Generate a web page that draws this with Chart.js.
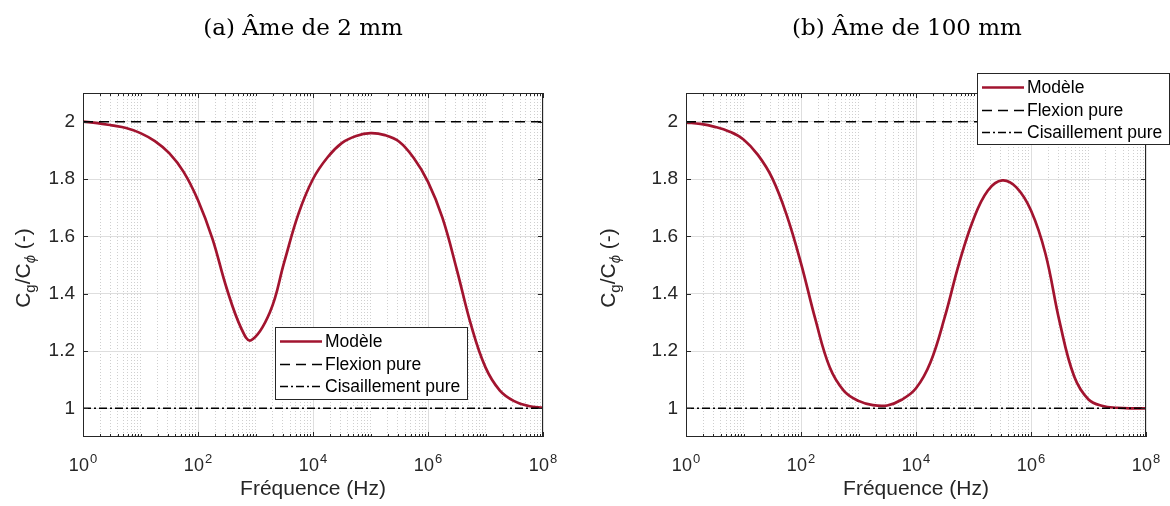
<!DOCTYPE html>
<html>
<head>
<meta charset="utf-8">
<script src="https://cdn.jsdelivr.net/npm/chart.js@4.4.1/dist/chart.umd.min.js"></script>
<style>
html, body { margin: 0; padding: 0; background: #fff; }
#wrap { position: relative; width: 1170px; height: 506px; }
.panel { position: absolute; top: 0; width: 585px; height: 506px; }
</style>
</head>
<body>
<div id="wrap">
  <div class="panel" style="left:0"><canvas id="ca" width="585" height="506"></canvas></div>
  <div class="panel" style="left:585px"><canvas id="cb" width="585" height="506"></canvas></div>
</div>
<script>
// (a) âme de 2 mm : fréquence (Hz) et Cg/Cphi
const freqA = [1, 1.78, 3.16, 5.62, 10, 17.8, 31.6, 56.2, 100, 178, 316, 562, 832, 1780, 3160,
  5620, 10000, 17800, 31600, 56200, 100000, 178000, 316000, 562000, 1000000, 1780000, 3160000,
  5620000, 10000000, 17800000, 31600000, 56200000, 100000000];
const modeleA = [2.000, 1.995, 1.987, 1.978, 1.960, 1.932, 1.89, 1.825, 1.726, 1.592, 1.418, 1.28,
  1.237, 1.335, 1.51, 1.68, 1.80, 1.875, 1.925, 1.95, 1.96, 1.953, 1.93, 1.874, 1.79, 1.665,
  1.485, 1.29, 1.143, 1.062, 1.025, 1.008, 1.002];

// (b) âme de 100 mm
const freqB = [1, 1.78, 3.16, 5.62, 10, 17.8, 31.6, 56.2, 100, 178, 316, 562, 1000, 1780, 3160,
  5620, 10000, 17800, 31600, 56200, 100000, 178000, 316000, 562000, 1000000, 1780000, 3160000,
  5620000, 10000000, 17800000, 31600000, 56200000, 100000000];
const modeleB = [1.997, 1.992, 1.982, 1.966, 1.938, 1.884, 1.803, 1.675, 1.506, 1.31, 1.143, 1.06,
  1.026, 1.011, 1.010, 1.03, 1.07, 1.16, 1.318, 1.506, 1.66, 1.76, 1.795, 1.77, 1.69, 1.54,
  1.30, 1.112, 1.031, 1.008, 1.002, 1.0, 1.0];

// droites de référence
const refFreq = [1, 100000000];
const flexion = [2, 2];
const cisaillement = [1, 1];

const legendLabels = ['Modèle', 'Flexion pure', 'Cisaillement pure'];
const titles = ['(a) Âme de 2 mm', '(b) Âme de 100 mm'];
const xMajor = [1, 100, 10000, 1000000, 100000000];
const xExp = ['0', '2', '4', '6', '8'];
const yTicks = [1, 1.2, 1.4, 1.6, 1.8, 2];

// positions des lignes de grille log (1..9 x 10^n)
const gridVals = [];
for (let e = 0; e < 8; e++)
  for (let m = 1; m < 10; m++) gridVals.push(m * Math.pow(10, e));
gridVals.push(100000000);

const AX = '#262626';
const SANS = '"Liberation Sans", Arial, sans-serif';
Chart.defaults.font.family = SANS;

function isMajorX(v) {
  const lg = Math.log10(v), r = Math.round(lg);
  return Math.abs(lg - r) < 1e-9 && r % 2 === 0;
}

function overlay(look) {
  return {
    id: 'overlay',
    afterDraw: function (chart) {
      const ctx = chart.ctx, ca = chart.chartArea;
      const xs = chart.scales.x, ys = chart.scales.y;
      ctx.save();
      // cadre + graduations intérieures
      ctx.strokeStyle = AX;
      ctx.lineWidth = 1;
      ctx.setLineDash([]);
      ctx.strokeRect(ca.left + 0.5, ca.top + 0.5, ca.right - ca.left - 1, ca.bottom - ca.top - 1);
      ctx.beginPath();
      gridVals.forEach(function (v) {
        const px = Math.round(xs.getPixelForValue(v)) + 0.5;
        const len = isMajorX(v) ? 5 : 3;
        ctx.moveTo(px, ca.bottom); ctx.lineTo(px, ca.bottom - len);
        ctx.moveTo(px, ca.top); ctx.lineTo(px, ca.top + len);
      });
      yTicks.forEach(function (v) {
        const py = Math.round(ys.getPixelForValue(v)) + 0.5;
        ctx.moveTo(ca.left, py); ctx.lineTo(ca.left + 5, py);
        ctx.moveTo(ca.right, py); ctx.lineTo(ca.right - 5, py);
      });
      ctx.stroke();

      // étiquettes 10^n
      ctx.fillStyle = AX;
      ctx.textAlign = 'left';
      ctx.textBaseline = 'alphabetic';
      xMajor.forEach(function (v, i) {
        const px = xs.getPixelForValue(v);
        ctx.font = '18px ' + SANS;
        const wb = ctx.measureText('10').width;
        ctx.font = '13px ' + SANS;
        const we = ctx.measureText(xExp[i]).width;
        const x0 = px - (wb + we + 1) / 2;
        ctx.font = '18px ' + SANS;
        ctx.fillText('10', x0, 471);
        ctx.font = '13px ' + SANS;
        ctx.fillText(xExp[i], x0 + wb + 1, 463);
      });

      // titre axe x
      ctx.font = '21px ' + SANS;
      ctx.textAlign = 'center';
      ctx.fillText('Fréquence (Hz)', (ca.left + ca.right) / 2, 495);

      // titre axe y : C_g/C_phi (-)
      const parts = [
        { t: 'C', f: '21px ' + SANS, dy: 0 },
        { t: 'g', f: '15px ' + SANS, dy: 5 },
        { t: '/C', f: '21px ' + SANS, dy: 0 },
        { t: 'ϕ', f: 'italic 15px ' + SANS, dy: 5 },
        { t: ' (-)', f: '21px ' + SANS, dy: 0 }
      ];
      let tot = 0;
      parts.forEach(function (p) { ctx.font = p.f; p.w = ctx.measureText(p.t).width; tot += p.w; });
      ctx.save();
      ctx.translate(30, 268);
      ctx.rotate(-Math.PI / 2);
      ctx.textAlign = 'left';
      let cx = -tot / 2;
      parts.forEach(function (p) { ctx.font = p.f; ctx.fillText(p.t, cx, p.dy); cx += p.w; });
      ctx.restore();

      // titre du sous-graphe
      ctx.fillStyle = '#000';
      ctx.font = '23px "DejaVu Serif", serif';
      ctx.textAlign = 'center';
      ctx.fillText(look.title, look.titleX, 35);

      // légende
      const lg = look.legend;
      ctx.fillStyle = '#fff';
      ctx.fillRect(lg.x, lg.y, lg.w, lg.h);
      ctx.strokeStyle = AX;
      ctx.lineWidth = 1;
      ctx.strokeRect(lg.x + 0.5, lg.y + 0.5, lg.w, lg.h);
      ctx.font = '17.5px ' + SANS;
      ctx.textAlign = 'left';
      ctx.textBaseline = 'middle';
      legendLabels.forEach(function (lab, i) {
        const ds = chart.data.datasets.find(function (d) { return d.label === lab; });
        const y = Math.round(lg.y + 14 + i * 22.5) + 0.5;
        ctx.beginPath();
        ctx.setLineDash(ds.borderDash || []);
        ctx.strokeStyle = ds.borderColor;
        ctx.lineWidth = ds.borderWidth;
        ctx.moveTo(lg.x + 5, y);
        ctx.lineTo(lg.x + 47, y);
        ctx.stroke();
        ctx.setLineDash([]);
        ctx.fillStyle = '#000';
        ctx.fillText(lab, lg.x + 50, y + 1);
      });
      ctx.restore();
    }
  };
}

function makeChart(id, freq, modele, look) {
  return new Chart(document.getElementById(id), {
    type: 'line',
    data: {
      datasets: [{
        label: legendLabels[1],
        data: refFreq.map(function (f, i) { return { x: f, y: flexion[i] }; }),
        borderColor: '#000', borderWidth: 1.5, borderDash: [10, 6],
        pointRadius: 0, order: 0
      }, {
        label: legendLabels[2],
        data: refFreq.map(function (f, i) { return { x: f, y: cisaillement[i] }; }),
        borderColor: '#000', borderWidth: 1.5, borderDash: [8, 3, 2, 3],
        pointRadius: 0, order: 0
      }, {
        label: legendLabels[0],
        data: freq.map(function (f, i) { return { x: f, y: modele[i] }; }),
        borderColor: '#A2142F', borderWidth: 2.7,
        tension: 0.4,
        pointRadius: 0, order: 1
      }]
    },
    options: {
      responsive: false,
      animation: false,
      layout: { padding: { top: 93, right: look.right, bottom: 0, left: 0 } },
      plugins: { legend: { display: false }, tooltip: { enabled: false } },
      scales: {
        x: {
          type: 'logarithmic', min: 1, max: 100000000,
          afterBuildTicks: function (s) { s.ticks = gridVals.map(function (v) { return { value: v }; }); },
          afterFit: function (s) { s.height = 69; },
          ticks: { autoSkip: false, maxRotation: 0, callback: function () { return ''; } },
          grid: {
            drawTicks: false, lineWidth: 1,
            color: function (c) { return c.tick && isMajorX(c.tick.value) ? '#dedede' : 'rgba(38,38,38,0.22)'; }
          },
          border: {
            display: false,
            dash: function (c) { return c.tick && !isMajorX(c.tick.value) ? [1, 2] : []; }
          }
        },
        y: {
          type: 'linear', min: 0.9, max: 2.1,
          afterBuildTicks: function (s) { s.ticks = yTicks.map(function (v) { return { value: v }; }); },
          afterFit: function (s) { s.width = look.left; },
          ticks: {
            padding: 8, color: AX, font: { size: 19 },
            callback: function (v) { return String(v); }
          },
          grid: { drawTicks: false, color: '#dedede', lineWidth: 1 },
          border: { display: false }
        }
      }
    },
    plugins: [overlay(look)]
  });
}

makeChart('ca', freqA, modeleA, {
  left: 83, right: 42, title: titles[0], titleX: 303,
  legend: { x: 275, y: 327, w: 192, h: 72 }
});
makeChart('cb', freqB, modeleB, {
  left: 101, right: 24, title: titles[1], titleX: 322,
  legend: { x: 392, y: 73, w: 192, h: 71 }
});
</script>
</body>
</html>
